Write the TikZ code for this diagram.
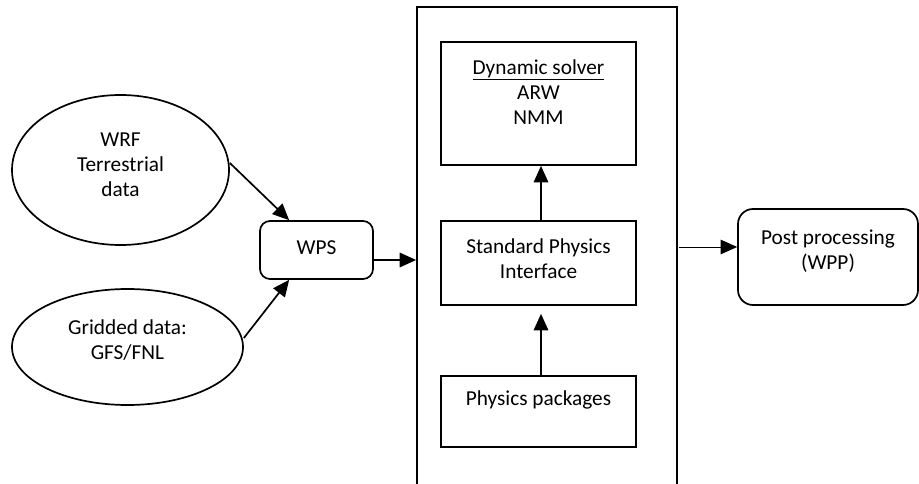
\documentclass[tikz,border=0pt]{standalone}
\usepackage{fontspec}
\setmainfont{Carlito}
\usetikzlibrary{arrows.meta,shapes.geometric,calc}
\begin{document}
\begin{tikzpicture}[x=1pt,y=-1pt,
  every node/.style={font=\fontsize{21.3}{25}\selectfont, align=center},
  sqbox/.style={draw, line width=1.7pt, inner sep=0pt},
  rbox/.style={draw, line width=1.7pt, inner sep=0pt, rounded corners=#1},
  oval/.style={draw, ellipse, line width=1.7pt, inner sep=0pt},
  txt/.style={inner sep=0pt},
  arr/.style={line width=1.7pt, -{Triangle[length=16.5pt,width=14.5pt]}},
  thinarr/.style={line width=1pt, -{Triangle[length=16.5pt,width=14.5pt]}}
]
\useasboundingbox (0,0) rectangle (919,484);
\clip (0,0) rectangle (919,484);

% outer container
\node[sqbox, minimum width=260, minimum height=500] (outer) at (547,257) {};

% inner boxes
\node[sqbox, minimum width=195, minimum height=123] (ds) at (538.5,103.5) {};
\node[txt] (dst) at (538.5,92) {\underline{Dynamic solver}\\ARW\\NMM};
\node[sqbox, minimum width=195, minimum height=84] (spi) at (538.5,263) {};
\node[txt] (spit) at (538.5,258.5) {Standard Physics\\Interface};
\node[sqbox, minimum width=195, minimum height=71] (pp) at (538.5,411.5) {};
\node[txt] (ppt) at (538.5,400) {Physics packages};

% post processing
\node[rbox=15pt, minimum width=180, minimum height=96] (post) at (828,257) {};
\node[txt] (postt) at (828,251.5) {Post processing\\(WPP)};

% WPS
\node[rbox=10pt, minimum width=113, minimum height=58] (wps) at (316.5,250) {};
\node[txt] (wpst) at (316.5,248) {WPS};

% ellipses
\node[oval, minimum width=217, minimum height=150] (wrf) at (120.5,170) {};
\node[txt] (wrft) at (120.5,165) {WRF\\Terrestrial\\data};
\node[oval, minimum width=231, minimum height=116] (grid) at (127.5,347) {};
\node[txt] (gridt) at (127.5,340) {Gridded data:\\GFS/FNL};

% connectors
\coordinate (wpsin1) at ($(wps.north west)+(30,0)$);
\coordinate (wpsin2) at ($(wps.south west)+(30,0)$);
\coordinate (wrfout) at ($(wrf.east)+(0,-7)$);
\draw[arr] (wrfout) -- (wpsin1);
\coordinate (gridout) at ($(grid.east)+(0,-9)$);
\draw[arr] (gridout) -- (wpsin2);
\coordinate (wpsout) at ($(wps.east)+(0,10)$);
\draw[arr] (wpsout) -- (wpsout -| outer.west);
\coordinate (outout) at ($(outer.east)+(1,-10)$);
\draw[thinarr] (outout) -- (outout -| post.west);
\draw[arr] (spi.north -| 541,0) -- (ds.south -| 541,0);
\coordinate (spibot) at ($(spi.south)+(2.5,8)$);
\draw[arr] (pp.north -| spibot) -- (spibot);
\end{tikzpicture}
\end{document}
